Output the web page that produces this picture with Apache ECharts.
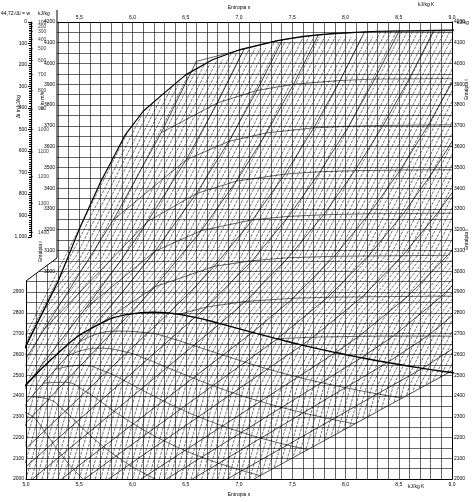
<!DOCTYPE html>
<html><head><meta charset="utf-8">
<script src="https://cdn.jsdelivr.net/npm/echarts@6/dist/echarts.min.js"></script>
<style>html,body{margin:0;background:#fff}#c{width:474px;height:502px}</style>
</head><body><div id="c"></div>
<script>
const isobarNames = ['0,01','0,02','0,05','0,1','0,2','0,5','1','2','5','10','20','50','100','200','500'];
const isobarPoints = [
 [[7.139,2000],[8.975,2514],[9.52,2688]],
 [[6.889,2000],[8.723,2533],[9.19,2688]],
 [[6.561,2000],[8.394,2561],[8.769,2688],[9.224,2880]],
 [[6.318,2000],[8.149,2584],[8.449,2688],[8.904,2880],[9.28,3077]],
 [[6.078,2000],[7.907,2609],[8.125,2687],[8.584,2879],[8.96,3077],[9.29,3280]],
 [[5.774,2000],[7.593,2645],[7.694,2683],[8.158,2877],[8.536,3075],[8.863,3279],[9.155,3488]],
 [[5.548,2000],[7.359,2675],[7.834,2875],[8.216,3074],[8.544,3278],[8.834,3488],[9.098,3705]],
 [[5.332,2000],[7.127,2706],[7.507,2870],[7.894,3072],[8.223,3277],[8.514,3487],[8.778,3704],[9.02,3927]],
 [[5.061,2000],[6.821,2748],[7.061,2855],[7.461,3065],[7.795,3272],[8.088,3484],[8.354,3702],[8.598,3926],[8.826,4156]],
 [[5.0,2060],[6.586,2778],[6.695,2828],[7.124,3051],[7.465,3264],[7.762,3479],[8.030,3698],[8.275,3925],[8.503,4156]],
 [[5.0,2148],[6.340,2799],[6.547,2903],[6.768,3024],[7.128,3248],[7.432,3468],[7.702,3690],[7.949,3918],[8.178,4151]],
 [[5.0,2271],[5.973,2794],[6.210,2925],[6.647,3196],[6.976,3434],[7.259,3666],[7.512,3900],[7.744,4137]],
 [[5.0,2366],[5.614,2725],[5.946,2925],[6.213,3097],[6.599,3374],[6.904,3625],[7.169,3870],[7.409,4115]],
 [[5.0,2450],[5.554,2818],[5.904,3061],[6.141,3239],[6.505,3537],[6.796,3810],[7.049,4070]],
 [[5.0,2580],[5.17,2720],[5.82,3247],[6.27,3667],[6.6,4010]]
];
const isothermNames = ['800°C','700°C','600°C','500°C','400°C','300°C','200°C','100°C'];
const isothermPoints = [
 [[6.6,4010],[7.049,4070],[7.409,4115],[7.744,4137],[8.178,4151],[8.503,4156],[8.826,4156],[9.1,4158]],
 [[6.27,3667],[6.796,3810],[7.169,3870],[7.512,3900],[7.949,3918],[8.275,3925],[8.598,3926],[9.02,3927]],
 [[5.82,3247],[6.505,3537],[6.904,3625],[7.259,3666],[7.702,3690],[8.030,3698],[8.354,3702],[8.778,3704],[9.098,3705]],
 [[5.17,2720],[6.141,3239],[6.599,3374],[6.976,3434],[7.432,3468],[7.762,3479],[8.088,3484],[8.514,3487],[8.834,3488],[9.155,3488]],
 [[5.554,2818],[6.213,3097],[6.647,3196],[7.128,3248],[7.465,3264],[7.795,3272],[8.223,3277],[8.544,3278],[8.863,3279],[9.29,3280]],
 [[5.70,2749],[6.210,2925],[6.768,3024],[7.124,3051],[7.461,3065],[7.894,3072],[8.216,3074],[8.536,3075],[8.96,3077]],
 [[6.43,2792],[6.695,2828],[7.061,2855],[7.507,2870],[7.834,2875],[8.158,2877],[8.584,2879],[8.904,2880],[9.224,2880]],
 [[7.354,2676],[7.694,2683],[8.125,2687],[8.449,2688],[8.769,2688],[9.19,2688]]
];
const saturation = [[4.927,2412],[5.31,2610],[5.614,2725],[5.973,2794],[6.186,2803],[6.340,2799],[6.586,2778],[6.821,2748],[7.127,2706],[7.359,2675],[7.593,2645],[7.907,2609],[8.149,2584],[8.394,2561],[8.723,2533],[8.975,2514],[9.15,2502]];
const qualityNames = ['x=0,95','x=0,90','x=0,85','x=0,80','x=0,75','x=0,70'];
const qualityPoints = [
 [[5.501,2659],[5.821,2712],[6.145,2704],[6.364,2677],[6.573,2643],[6.847,2597],[7.056,2563],[7.268,2530],[7.553,2491],[7.774,2464],[7.998,2440],[8.300,2410],[8.532,2390]],
 [[5.389,2593],[5.669,2630],[5.951,2610],[6.141,2576],[6.325,2537],[6.567,2487],[6.753,2450],[6.943,2415],[7.200,2374],[7.399,2345],[7.602,2319],[7.877,2287],[8.088,2266]],
 [[5.276,2527],[5.516,2548],[5.756,2515],[5.919,2475],[6.077,2432],[6.287,2377],[6.451,2337],[6.618,2300],[6.846,2256],[7.024,2225],[7.206,2197],[7.454,2164],[7.645,2142]],
 [[5.163,2462],[5.363,2466],[5.561,2421],[5.696,2375],[5.829,2326],[6.008,2266],[6.148,2224],[6.293,2185],[6.492,2138],[6.649,2106],[6.810,2076],[7.031,2041],[7.201,2017]],
 [[5.051,2396],[5.211,2384],[5.367,2326],[5.474,2274],[5.581,2221],[5.728,2156],[5.845,2111],[5.968,2069],[6.138,2020],[6.274,1986]],
 [[4.938,2330],[5.058,2302],[5.172,2232],[5.252,2173],[5.333,2116],[5.448,2046],[5.542,1998]]
];
const envelope = [[2.0,600],[4.5,2150],[5.0,2640],[5.3,2950],[5.51,3214],[5.7,3430],[5.93,3655],[6.1,3770],[6.28,3850],[6.5,3945],[6.75,4018],[7.0,4065],[7.35,4109],[7.6,4130],[7.89,4145],[8.3,4155],[9.0,4160],[10,4162]];
const lowest = [[2.0,-1000],[6.0,1681],[7.139,2000],[8.975,2514],[9.52,2688],[11,3100]];
const isochoreShape = [[6.75,2000],[7.0,2450],[7.305,2770],[7.767,3070],[8.831,4155]];
const isochoreShifts = [-3.3,-3.25,-3.2,-3.15,-3.1,-3.05,-3.0,-2.95,-2.9,-2.85,-2.8,-2.75,-2.7,-2.65,-2.6,-2.55,-2.5,-2.45,-2.4,-2.35,-2.3,-2.25,-2.2,-2.15,-2.1,-2.05,-2.0,-1.95,-1.9,-1.85,-1.8,-1.75,-1.7,-1.65,-1.6,-1.55,-1.5,-1.45,-1.4,-1.35,-1.3,-1.25,-1.2,-1.15,-1.1,-1.05,-1.0,-0.95,-0.9,-0.85,-0.8,-0.75,-0.7,-0.65,-0.6,-0.55,-0.5,-0.45,-0.4,-0.35,-0.3,-0.25,-0.2,-0.15,-0.1,-0.05,0.0,0.05,0.1,0.15,0.2,0.25,0.3,0.35,0.4,0.45,0.5,0.55,0.6,0.65,0.7,0.75,0.8,0.85,0.9,0.95,1.0,1.05,1.1,1.15,1.2,1.25,1.3,1.35,1.4,1.45,1.5,1.55,1.6,1.65,1.7,1.75,1.8,1.85,1.9,1.95,2.0,2.05,2.1,2.15,2.2];
const nomoW = [100,200,300,400,500,600,700,800,900,1000,1100,1200,1300,1400];
const nomoWDi = [5,20,45,80,125,180,245,320,405,500,605,720,845,980];

function interp(arr,s){
  for(let i=0;i<arr.length-1;i++){const a=arr[i],b=arr[i+1];
    if(s>=a[0]&&s<=b[0]) return a[1]+(b[1]-a[1])*(s-a[0])/(b[0]-a[0]);}
  return NaN;
}
function clipBand(pts){
  const dense=[];
  for(let i=0;i<pts.length-1;i++){const a=pts[i],b=pts[i+1];
    for(let k=0;k<40;k++){const m=k/40;dense.push([a[0]+(b[0]-a[0])*m,a[1]+(b[1]-a[1])*m]);}}
  dense.push(pts[pts.length-1]);
  return dense.filter(p=>{const up=interp(envelope,p[0]),lo=interp(lowest,p[0]);return p[1]<=up&&p[1]>=lo;});
}
const comma = v => String(v).replace('.', ',');
const fmtS = v => { const r = Math.round(v*10); return r % 5 === 0 ? comma((r/10).toFixed(1)) : ''; };
const ln = {color:'#000', width:0.7};
const series = [];
isochoreShifts.forEach(d=>series.push({type:'line',data:clipBand(isochoreShape.map(p=>[p[0]+d,p[1]])),symbol:'none',lineStyle:{color:'#000',width:0.55,type:[3,1.2]},silent:true,clip:true}));
isobarPoints.forEach((pts,i)=>series.push({type:'line',data:pts,symbol:'none',lineStyle:ln,silent:true,clip:true}));
isothermPoints.forEach((pts,i)=>series.push({type:'line',data:pts.map((p,j)=> j===pts.length-3 ? {value:p,label:{show:true,formatter:isothermNames[i],position:'top',fontSize:5,color:'#000',backgroundColor:'#fff'}} : p),symbol:'none',lineStyle:{color:'#000',width:0.6},silent:true,clip:true}));
qualityPoints.forEach((pts,i)=>series.push({type:'line',smooth:true,data:pts.map((p,j)=> j===pts.length-1 ? {value:p,label:{show:true,formatter:qualityNames[i],position:'left',fontSize:5,color:'#000',rotate:20,backgroundColor:'#fff'}} : p),symbol:'none',lineStyle:{color:'#000',width:0.6},silent:true,clip:true}));
series.push({type:'line',smooth:true,data:saturation,symbol:'none',lineStyle:{color:'#000',width:1.4},silent:true,clip:true});
series.push({type:'line',data:envelope,symbol:'none',lineStyle:{color:'#000',width:1.2},silent:true,clip:true});
series.push({type:'scatter',xAxisIndex:2,yAxisIndex:3,zlevel:1,data:nomoWDi.map((d,i)=>({value:[0,d],label:{show:true,formatter:String(nomoW[i]),position:'right',fontSize:5,color:'#000'}})),symbol:'rect',symbolSize:[4,0.6],itemStyle:{color:'#000'},silent:true});

const chart = echarts.init(document.getElementById('c'),null,{renderer:'canvas'});
chart.setOption({
 animation:false,
 grid:[{left:26,right:22,top:10,bottom:22},{left:31,width:2,top:22,height:215,zlevel:1}],
 xAxis:[
  {gridIndex:0,type:'value',min:5.0,max:9.0,interval:0.1,position:'bottom',z:5,
   axisLine:{lineStyle:{color:'#000',width:1}},axisTick:{show:false},
   axisLabel:{formatter:fmtS,fontSize:5,color:'#000',margin:3},
   splitLine:{show:true,lineStyle:{color:'#000',width:0.6}},
   name:'Entropia s',nameLocation:'middle',nameGap:11,nameTextStyle:{fontSize:5,color:'#000'}},
  {gridIndex:0,type:'value',min:5.0,max:9.0,interval:0.1,position:'top',
   axisLine:{lineStyle:{color:'#000'}},axisTick:{show:false},
   axisLabel:{formatter:v=>{const t=fmtS(v);return (Math.round(v*10)===50)?'':t;},fontSize:5,color:'#000',margin:2},
   splitLine:{show:false},
   name:'Entropia s',nameLocation:'middle',nameGap:8,nameTextStyle:{fontSize:5,color:'#000'}},
  {gridIndex:1,type:'value',min:0,max:1,show:false,zlevel:1}
 ],
 yAxis:[
  {gridIndex:0,type:'value',min:2000,max:4200,interval:50,position:'left',z:5,
   axisLine:{lineStyle:{color:'#000'}},axisTick:{show:false},
   axisLabel:{formatter:v=>(v%100===0&&v<=2900)?String(v):'',fontSize:5,color:'#000',margin:2},
   splitLine:{show:true,lineStyle:{color:'#000',width:0.6}}},
  {gridIndex:0,type:'value',min:2000,max:4200,interval:50,position:'right',
   axisLine:{lineStyle:{color:'#000'}},axisTick:{show:false},
   axisLabel:{formatter:v=>v%100===0?String(v):'',fontSize:5,color:'#000',margin:2},
   splitLine:{show:false}},
  {gridIndex:0,type:'value',min:2000,max:4200,interval:50,position:'left',offset:-31,zlevel:1,
   axisLine:{show:false},axisTick:{show:false},
   axisLabel:{formatter:v=>(v%100===0&&v>=3000)?String(v):'',fontSize:5,color:'#000',margin:2},
   splitLine:{show:false}},
  {gridIndex:1,type:'value',min:0,max:1000,inverse:true,interval:100,zlevel:1,
   axisLine:{lineStyle:{color:'#000',width:1.2}},axisTick:{show:true,length:3,lineStyle:{color:'#000'}},
   minorTick:{show:true,splitNumber:10,length:2,lineStyle:{color:'#000'}},
   axisLabel:{fontSize:5,color:'#000',margin:4},splitLine:{show:false}}
 ],
 graphic:[
  {type:'polygon',z:50,shape:{points:[[0,0],[57,0],[57,258],[26,281],[0,281]]},style:{fill:'#fff'}},
  {type:'polyline',z:51,shape:{points:[[57,10],[57,258],[26,281]]},style:{stroke:'#000',lineWidth:1,fill:null}},
  {type:'text',z:52,left:1,top:11,style:{text:'44,72√Δi = w',fontSize:5,fill:'#000'}},
  {type:'text',z:52,left:38,top:11,style:{text:'kJ/kg',fontSize:5,fill:'#000'}},
  {type:'text',z:52,left:457,top:20,style:{text:'kJ/kg',fontSize:5,fill:'#000'}},
  {type:'text',z:52,left:418,top:2,style:{text:'kJ/kg K',fontSize:5,fill:'#000'}},
  {type:'text',z:52,left:408,top:484,style:{text:'kJ/kg K',fontSize:5,fill:'#000'}},
  {type:'text',z:52,x:16,y:118,rotation:Math.PI/2,style:{text:'Δi in kJ/kg',fontSize:5,fill:'#000'}},
  {type:'text',z:52,x:40,y:110,rotation:Math.PI/2,style:{text:'w in m/s',fontSize:5,fill:'#000'}},
  {type:'text',z:52,x:38,y:262,rotation:Math.PI/2,style:{text:'Entalpia i',fontSize:5,fill:'#000'}},
  {type:'text',z:52,x:464,y:100,rotation:Math.PI/2,style:{text:'Entalpia i',fontSize:5,fill:'#000'}},
  {type:'text',z:52,x:464,y:250,rotation:Math.PI/2,style:{text:'Entalpia i',fontSize:5,fill:'#000'}}
 ],
 series: series
});
</script></body></html>
